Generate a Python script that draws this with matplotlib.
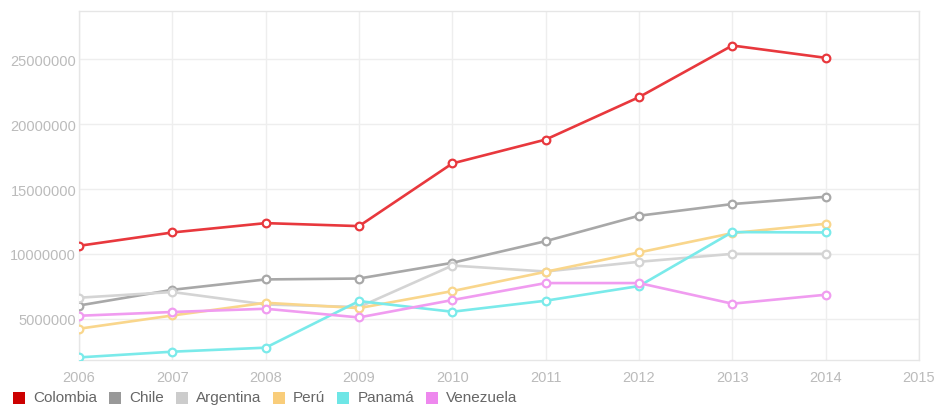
import matplotlib
matplotlib.use("Agg")
import matplotlib.pyplot as plt
from matplotlib.patches import Rectangle

plt.rcParams['font.family'] = ['Liberation Sans', 'DejaVu Sans']

years = [2006, 2007, 2008, 2009, 2010, 2011, 2012, 2013, 2014]

colombia = [10620000, 11650000, 12370000, 12140000, 16970000, 18810000, 22080000, 26060000, 25110000]
chile = [6020000, 7230000, 8030000, 8100000, 9310000, 10980000, 12940000, 13840000, 14400000]
argentina = [6620000, 7060000, 6100000, 5900000, 9100000, 8640000, 9390000, 10000000, 10000000]
peru = [4230000, 5250000, 6230000, 5820000, 7130000, 8620000, 10110000, 11600000, 12320000]
panama = [2020000, 2460000, 2770000, 6360000, 5540000, 6390000, 7520000, 11680000, 11650000]
venezuela = [5230000, 5520000, 5770000, 5100000, 6440000, 7750000, 7750000, 6160000, 6850000]

series_names = ['Colombia', 'Chile', 'Argentina', 'Perú', 'Panamá', 'Venezuela']
series_values = [colombia, chile, argentina, peru, panama, venezuela]
line_colors = ['#e8383d', '#a8a8a8', '#d4d4d4', '#f9d68c', '#7aeaea', '#f09cf0']
legend_colors = ['#cc0000', '#999999', '#cccccc', '#f9cd7a', '#6ee6e6', '#ee88ee']

x_ticks = list(range(2006, 2016))
y_ticks = [5000000, 10000000, 15000000, 20000000, 25000000]

fig = plt.figure(figsize=(9.37, 4.06), dpi=100)
ax = fig.add_axes([79 / 937, 1 - 361 / 406, (919 - 79) / 937, (361 - 12) / 406])

for name, vals, col in zip(series_names, series_values, line_colors):
    ax.plot(years, vals, color=col, lw=1.9, marker='o', ms=5.5,
            mfc='white', mec=col, mew=1.6, zorder=3)

ax.set_xlim(2006, 2015)
ax.set_ylim(1820000, 28720000)
ax.set_xticks(x_ticks)
ax.set_yticks(y_ticks)
ax.set_xticklabels([str(t) for t in x_ticks])
ax.set_yticklabels([str(t) for t in y_ticks])
ax.grid(True, color='#eeeeee', lw=1)
ax.set_axisbelow(True)
for s in ax.spines.values():
    s.set_color('#e6e6e6')
    s.set_linewidth(1)
ax.tick_params(length=0, colors='#bbbbbb', labelsize=10.5, pad=2)
ax.tick_params(axis='x', pad=7)

# legend row under the plot
x = 13
yc = 1 - 398 / 406
for name, col in zip(series_names, legend_colors):
    fig.patches.append(Rectangle((x / 937, 1 / 406), 12 / 937, 12 / 406,
                                 transform=fig.transFigure, facecolor=col,
                                 edgecolor='none'))
    t = fig.text((x + 20) / 937, yc, name, fontsize=11, color='#666666',
                 va='center', ha='left')
    fig.canvas.draw()
    bb = t.get_window_extent()
    x = bb.x1 + 12

fig.savefig('out.png', dpi=100)
